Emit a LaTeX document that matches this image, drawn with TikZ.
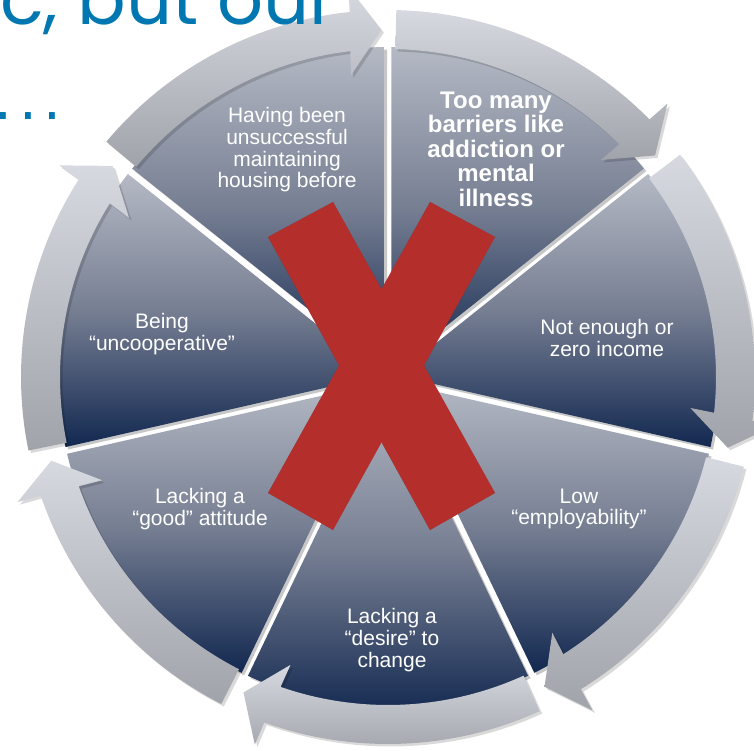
\documentclass[tikz,border=0pt]{standalone}
\usepackage{fontspec}
\setmainfont{Liberation Sans}
\newfontfamily\titlefont{Poppins}
\newfontfamily\dotfont{DejaVu Sans}
\definecolor{titleblue}{RGB}{0,119,176}
\definecolor{wtop}{RGB}{180,185,196}
\definecolor{wmid}{RGB}{118,126,146}
\definecolor{wbot}{RGB}{18,40,80}
\definecolor{btop}{RGB}{214,217,223}
\definecolor{bbot}{RGB}{160,163,170}
\definecolor{xred}{RGB}{180,46,43}
\begin{document}
\begin{tikzpicture}[x=1pt,y=1pt,
  wedge/.style={top color=wtop, bottom color=wbot, middle color=wmid},
  band/.style={top color=btop, bottom color=bbot},
  shad/.style={fill=black, opacity=0.22},
  lbl/.style={text=white, align=center, inner sep=0pt, font=\fontsize{21}{21.7}\selectfont},
  lblb/.style={text=white, align=center, inner sep=0pt, font=\bfseries\fontsize{24}{24.5}\selectfont}]
\useasboundingbox (0,0) rectangle (754,750);
\clip (0,0) rectangle (754,750);
\begin{scope}[shift={(388,373)}]
  % wedge shadows
  \foreach \k in {0,...,6}{
    \pgfmathsetmacro\bs{90-\k*360/7}
    \pgfmathsetmacro\be{\bs-360/7}
    \pgfmathsetmacro\bm{\bs-180/7}
    \pgfmathsetmacro\wa{\bs-0.6}
    \pgfmathsetmacro\wb{\be+0.6}
    \fill[shad, shift={(2.5,-2.5)}] (\bm:8.07) -- (\wa:330) arc[start angle=\wa, end angle=\wb, radius=330] -- cycle;
  }
  % wedges
  \foreach \k in {0,...,6}{
    \pgfmathsetmacro\bs{90-\k*360/7}
    \pgfmathsetmacro\be{\bs-360/7}
    \pgfmathsetmacro\bm{\bs-180/7}
    \pgfmathsetmacro\wa{\bs-0.6}
    \pgfmathsetmacro\wb{\be+0.6}
    \path[wedge] (\bm:8.07) -- (\wa:330) arc[start angle=\wa, end angle=\wb, radius=330] -- cycle;
  }
  % arrow bands
  \foreach \k in {0,...,6}{
    \pgfmathsetmacro\bs{90-\k*360/7}
    \pgfmathsetmacro\be{\bs-360/7}
    \pgfmathsetmacro\sa{\bs-1.3}
    \pgfmathsetmacro\ho{\be+6.0}
    \pgfmathsetmacro\bo{\be+5.8}
    \pgfmathsetmacro\tp{\be+1.1}
    \pgfmathsetmacro\bi{\be+7.0}
    \pgfmathsetmacro\hi{\be+6.6}
    \fill[shad, opacity=0.15, shift={(2.5,-2.5)}] (\sa:367) arc[start angle=\sa, end angle=\ho, radius=367] -- (\bo:391) -- (\tp:347) -- (\bi:304) -- (\hi:328) arc[start angle=\hi, end angle=\sa, radius=328] -- cycle;
    \path[band] (\sa:367) arc[start angle=\sa, end angle=\ho, radius=367] -- (\bo:391) -- (\tp:347) -- (\bi:304) -- (\hi:328) arc[start angle=\hi, end angle=\sa, radius=328] -- cycle;
  }
\end{scope}
% labels
\node[lblb] (n0) at (496,601) {Too many\\barriers like\\addiction or\\mental\\illness};
\node[lbl] (n1) at (607,412) {Not enough or\\zero income};
\node[lbl] (n2) at (579,241) {Low\\“employability”};
\node[lbl] (n3) at (392,110) {Lacking a\\“desire” to\\change};
\node[lbl] (n4) at (200,241) {Lacking a\\“good” attitude};
\node[lbl] (n5) at (162,416) {Being\\“uncooperative”};
\node[lbl] (n6) at (287,600) {Having been\\unsuccessful\\maintaining\\housing before};
% red X
\coordinate (xa) at (268,513); \coordinate (xb) at (333,548);
\coordinate (xc) at (495,257); \coordinate (xd) at (430,220);
\coordinate (xe) at (430,548); \coordinate (xf) at (495,513);
\coordinate (xg) at (333,220); \coordinate (xh) at (268,257);
\fill[shad, shift={(3,-3)}] (xa) -- (xb) -- (xc) -- (xd) -- cycle;
\fill[shad, shift={(3,-3)}] (xe) -- (xf) -- (xg) -- (xh) -- cycle;
\fill[xred] (xa) -- (xb) -- (xc) -- (xd) -- cycle;
\fill[xred] (xe) -- (xf) -- (xg) -- (xh) -- cycle;
% cropped title
\node[anchor=base west, text=titleblue, inner sep=0pt, font=\titlefont\fontsize{72}{72}\selectfont] (title) at (0,725) {c, but our};
\node[anchor=base west, text=titleblue, inner sep=0pt, font=\dotfont\fontsize{56}{56}\selectfont] (dots) at (-6,630) {.\kern7pt.\kern7pt.};
\end{tikzpicture}
\end{document}
